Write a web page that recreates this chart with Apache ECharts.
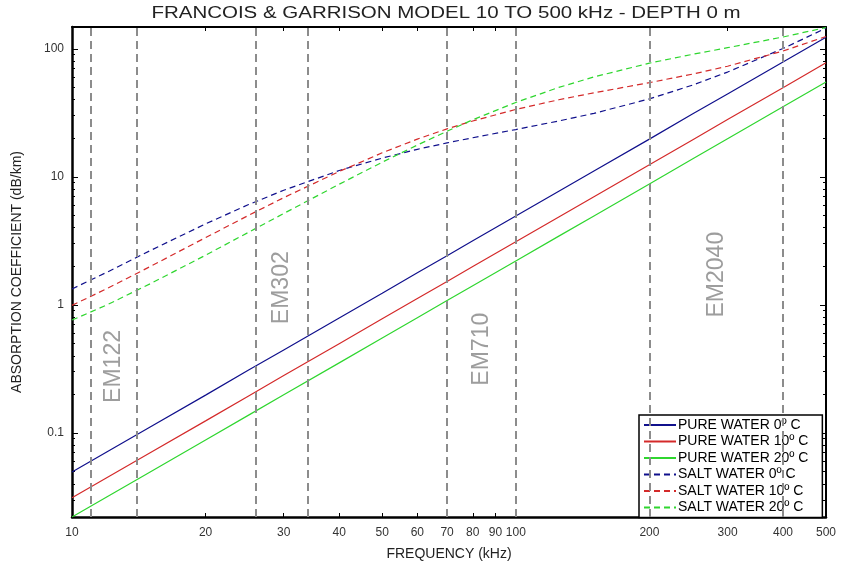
<!DOCTYPE html>
<html>
<head>
<meta charset="utf-8">
<script src="https://cdn.jsdelivr.net/npm/echarts@6/dist/echarts.min.js"></script>
<style>
  html, body { margin: 0; padding: 0; background: #fff; }
  #chart { width: 842px; height: 567px; }
</style>
</head>
<body>
<div id="chart"></div>
<script>
// Frequencies (kHz) at which the absorption curves are sampled
const freqKHz = [10, 12, 15, 20, 25, 30, 40, 50, 60, 70, 80, 100, 125, 150, 200, 250, 300, 400, 500];

// Absorption coefficient (dB/km), pure water
const pureWater0  = [0.0494, 0.0711, 0.111, 0.197, 0.309, 0.444, 0.79, 1.23, 1.78, 2.42, 3.16, 4.94, 7.71, 11.1, 19.7, 30.9, 44.4, 79.0, 123];
const pureWater10 = [0.0311, 0.0448, 0.0699, 0.124, 0.194, 0.28, 0.497, 0.777, 1.12, 1.52, 1.99, 3.11, 4.86, 6.99, 12.4, 19.4, 28.0, 49.7, 77.7];
const pureWater20 = [0.022, 0.0317, 0.0495, 0.088, 0.1375, 0.198, 0.352, 0.55, 0.792, 1.08, 1.41, 2.2, 3.44, 4.95, 8.8, 13.75, 19.8, 35.2, 55.0];

// Absorption coefficient (dB/km), salt water
const saltWater0  = [1.33, 1.80, 2.65, 4.29, 6.07, 7.85, 11.2, 14.0, 16.4, 18.4, 20.2, 23.4, 27.3, 31.3, 40.6, 52.0, 65.8, 100.5, 145];
const saltWater10 = [0.99, 1.34, 1.99, 3.35, 5.0, 6.87, 11.0, 15.4, 19.7, 23.7, 27.3, 33.6, 40.0, 45.3, 54.4, 63.4, 73.1, 96.1, 124.7];
const saltWater20 = [0.76, 1.0, 1.46, 2.44, 3.69, 5.17, 8.75, 13.0, 17.7, 22.7, 27.9, 38.1, 49.9, 60.3, 77.2, 90.5, 102, 123.6, 146.7];

// Echosounder frequency bands (kHz)
const sonarNames = ['EM122', 'EM302', 'EM710', 'EM2040'];
const sonarBandLow  = [11, 26, 70, 200];
const sonarBandHigh = [14, 34, 100, 400];

// Axis tick labels
const xTickLabels = [10, 20, 30, 40, 50, 60, 70, 80, 90, 100, 200, 300, 400, 500];
const yTickLabels = [0.1, 1, 10, 100];
const yMinorTicks = [0.03, 0.04, 0.05, 0.06, 0.07, 0.08, 0.09,
                     0.2, 0.3, 0.4, 0.5, 0.6, 0.7, 0.8, 0.9,
                     2, 3, 4, 5, 6, 7, 8, 9,
                     20, 30, 40, 50, 60, 70, 80, 90];

// Vertical placement (dB/km) of each band name
const sonarLabelLevel = [0.33, 1.36, 0.45, 1.72];

const seriesDefs = [
  { name: 'PURE WATER 0º C',  data: pureWater0,  color: '#10108c', dashed: false },
  { name: 'PURE WATER 10º C', data: pureWater10, color: '#d42a2a', dashed: false },
  { name: 'PURE WATER 20º C', data: pureWater20, color: '#2fd62f', dashed: false },
  { name: 'SALT WATER 0º C',  data: saltWater0,  color: '#10108c', dashed: true },
  { name: 'SALT WATER 10º C', data: saltWater10, color: '#d42a2a', dashed: true },
  { name: 'SALT WATER 20º C', data: saltWater20, color: '#2fd62f', dashed: true }
];

const FONT = 'Liberation Sans, Arial, sans-serif';
const Y_MIN = 0.022, Y_MAX = 148;

const lineSeries = seriesDefs.map(d => ({
  name: d.name,
  type: 'line',
  xAxisIndex: 0,
  yAxisIndex: 0,
  data: freqKHz.map((f, i) => [f, d.data[i]]),
  symbol: 'none',
  smooth: false,
  lineStyle: { color: d.color, width: 1.2, type: d.dashed ? [6, 4] : 'solid' },
  itemStyle: { color: d.color },
  z: 3
}));

// Dashed band edges and band names
const bandSeries = {
  name: 'bands',
  type: 'scatter',
  xAxisIndex: 0,
  yAxisIndex: 0,
  symbolSize: 0,
  silent: true,
  data: sonarNames.map((n, i) => ({
    name: n,
    value: [Math.sqrt(sonarBandLow[i] * sonarBandHigh[i]), sonarLabelLevel[i]]
  })),
  label: {
    show: true,
    position: 'inside',
    formatter: p => p.name,
    rotate: 90,
    fontFamily: FONT,
    fontSize: 23,
    color: '#858585'
  },
  markLine: {
    silent: true,
    symbol: 'none',
    label: { show: false },
    lineStyle: { color: '#8c8c8c', width: 2, type: [8, 5] },
    data: sonarBandLow.concat(sonarBandHigh).map(v => ({ xAxis: v }))
  },
  z: 2
};

const axisText = { fontFamily: FONT, fontSize: 12, color: '#333' };

const option = {
  animation: false,
  backgroundColor: '#fff',
  // Wide-set heading, drawn as a horizontally stretched text element
  graphic: [{
    type: 'text',
    x: 446,
    y: 14,
    scaleX: 1.28,
    scaleY: 1,
    style: {
      text: 'FRANCOIS & GARRISON MODEL 10 TO 500 kHz - DEPTH 0 m',
      fontFamily: FONT,
      fontSize: 16,
      fill: '#222',
      align: 'center',
      verticalAlign: 'middle'
    }
  }],
  grid: { left: 72, right: 16, top: 27, bottom: 50 },
  legend: {
    data: seriesDefs.map(d => d.name),
    orient: 'vertical',
    left: 639,
    top: 415,
    itemWidth: 32,
    itemHeight: 10,
    itemGap: 2.5,
    padding: [3, 14, 3, 4],
    borderColor: '#000',
    borderWidth: 1.5,
    borderRadius: 0,
    backgroundColor: '#fff',
    itemStyle: { color: 'rgba(0,0,0,0)', borderWidth: 0, opacity: 0 },
    textStyle: { fontFamily: FONT, fontSize: 14, color: '#000', padding: [0, 0, 0, -3] }
  },
  xAxis: [
    {
      type: 'log', logBase: 10, min: 10, max: 500,
      name: 'FREQUENCY (kHz)', nameLocation: 'middle', nameGap: 30,
      nameTextStyle: { fontFamily: FONT, fontSize: 14, color: '#222' },
      axisLine: { show: true, onZero: false, lineStyle: { color: '#000', width: 2.5 } },
      axisTick: { show: true, inside: true, length: 4, customValues: xTickLabels, lineStyle: { color: '#000' } },
      axisLabel: Object.assign({ customValues: xTickLabels, margin: 10 }, axisText),
      splitLine: { show: false }
    },
    {
      type: 'log', logBase: 10, min: 10, max: 500, position: 'top',
      axisLine: { show: true, onZero: false, lineStyle: { color: '#000', width: 2 } },
      axisTick: { show: true, inside: true, length: 4, customValues: xTickLabels, lineStyle: { color: '#000' } },
      axisLabel: { show: false },
      splitLine: { show: false }
    }
  ],
  yAxis: [
    {
      type: 'log', logBase: 10, min: Y_MIN, max: Y_MAX,
      name: 'ABSORPTION COEFFICIENT (dB/km)', nameLocation: 'middle', nameGap: 48, nameRotate: 90,
      nameTextStyle: { fontFamily: FONT, fontSize: 14, color: '#222' },
      axisLine: { show: true, onZero: false, lineStyle: { color: '#000', width: 2.5 } },
      axisTick: { show: true, inside: true, length: 6, customValues: yTickLabels, lineStyle: { color: '#000' } },
      axisLabel: Object.assign({ customValues: yTickLabels, margin: 8 }, axisText),
      splitLine: { show: false }
    },
    {
      type: 'log', logBase: 10, min: Y_MIN, max: Y_MAX, position: 'left',
      axisLine: { show: false },
      axisTick: { show: true, inside: true, length: 3, customValues: yMinorTicks, lineStyle: { color: '#000' } },
      axisLabel: { show: false },
      splitLine: { show: false }
    },
    {
      type: 'log', logBase: 10, min: Y_MIN, max: Y_MAX, position: 'right',
      axisLine: { show: true, onZero: false, lineStyle: { color: '#000', width: 2 } },
      axisTick: { show: true, inside: true, length: 6, customValues: yTickLabels, lineStyle: { color: '#000' } },
      axisLabel: { show: false },
      splitLine: { show: false }
    },
    {
      type: 'log', logBase: 10, min: Y_MIN, max: Y_MAX, position: 'right',
      axisLine: { show: false },
      axisTick: { show: true, inside: true, length: 3, customValues: yMinorTicks, lineStyle: { color: '#000' } },
      axisLabel: { show: false },
      splitLine: { show: false }
    }
  ],
  series: lineSeries.concat([bandSeries])
};

const chart = echarts.init(document.getElementById('chart'), null, { renderer: 'canvas' });
chart.setOption(option);
</script>
</body>
</html>
